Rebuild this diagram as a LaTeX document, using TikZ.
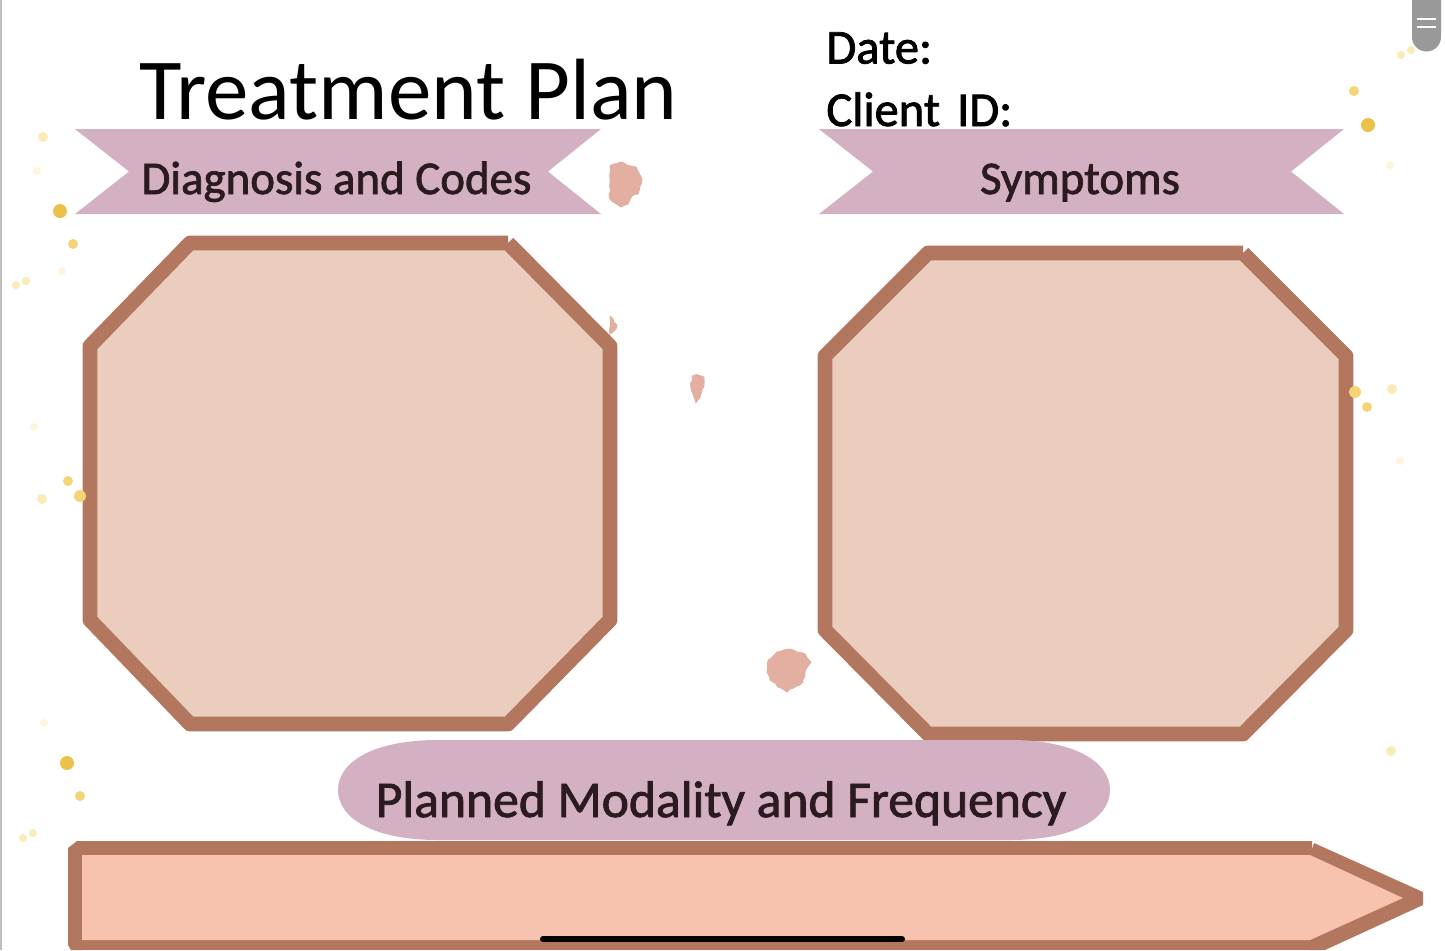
\documentclass[tikz,border=0pt]{standalone}
\usetikzlibrary{decorations.pathmorphing}
\usepackage{fontspec}
\setmainfont{Carlito}
\newfontfamily\medfont[FakeBold=1.6]{Carlito}
\definecolor{bandc}{HTML}{D3B1C2}
\definecolor{edgec}{HTML}{B2775E}
\definecolor{fillc}{HTML}{EACDBD}
\definecolor{arrowc}{HTML}{F7C3AE}
\definecolor{blotc}{HTML}{E2AFA0}
\definecolor{inkc}{HTML}{2B1A20}
\definecolor{gold}{HTML}{EBC14A}
\definecolor{goldb}{HTML}{F4D477}
\definecolor{goldc}{HTML}{FBEBB4}
\definecolor{goldd}{HTML}{FEF6DC}
\tikzset{
  band/.style={fill=bandc,draw=none},
  frame/.style={draw=edgec,line width=7.4pt,line join=round},
  heading/.style={anchor=base,text=inkc,inner sep=0pt,font=\medfont\fontsize{23.45pt}{26pt}\selectfont},
  label/.style={anchor=base west,text=black,inner sep=0pt,font=\medfont\fontsize{24.3pt}{28pt}\selectfont},
  blot/.style={fill=blotc,draw=blotc,line width=0.4pt,line join=round,decorate,decoration={random steps,segment length=2pt,amplitude=0.5pt}}
}
\newcommand{\dotsat}[3]{\foreach \a/\b in {#3} {\fill[#1] (\a,\b) circle[radius=#2];}}
\begin{document}
\begin{tikzpicture}[x=0.5pt,y=-0.5pt]
\useasboundingbox (0,0) rectangle (1445,950);
\fill[white] (0,0) rectangle (1445,950);
\fill[black!25] (0,0) rectangle (1.5,950);
% specks
\dotsat{gold}{7}{60/211,1368/125,67/763}
\dotsat{goldb}{5}{73/244,1354/91,68/481,80/796,1367/407}
\dotsat{goldc}{5}{43/137,42/499,1392/389,1391/751}
\dotsat{goldc}{4}{26/281,16/285,1401/55,1411/50,33/833,23/838}
\dotsat{goldd}{4}{37/171,62/271,1390/165,34/427,44/723,1400/461}
% blots
\path[blot] (610,166) -- (613,164) -- (620,162) -- (627,165) -- (636,167) -- (640,175) -- (642,179) -- (640,186) -- (638,194) -- (632,196) -- (628,204) -- (621,207) -- (615,203) -- (610,199) -- cycle;
\path[blot] (610,316) -- (613,319) -- (617,325) -- (614,331) -- (610,334) -- cycle;
\path[blot] (692,376) -- (698,375) -- (704,377) -- (704,386) -- (701,394) -- (696,403) -- (693,394) -- (691,388) -- cycle;
\path[blot] (768,660) -- (777,652) -- (790,649) -- (797,652) -- (805,654) -- (811,662) -- (805,672) -- (803,682) -- (794,688) -- (787,692) -- (778,687) -- (770,680) -- (767,672) -- cycle;
% header text
\node[anchor=base west,inner sep=0pt,font=\fontsize{43.5pt}{50pt}\selectfont] (title) at (139,119) {Treatment Plan};
\node[label] (date) at (826,63.5) {Date:};
\node[label] (client) at (826,126) {Client\hspace{3pt} ID:};
% ribbons
\path[band] (75,129) -- (601,129) -- (548,171.5) -- (601,214) -- (75,214) -- (129,171.5) -- cycle;
\path[band] (819,129) -- (1344,129) -- (1291,171.5) -- (1344,214) -- (819,214) -- (873,171.5) -- cycle;
\node[heading] (diag) at (336.5,194) {Diagnosis and Codes};
\node[heading] (symp) at (1080,194) {Symptoms};
% octagons
\fill[fillc] (190,243) -- (508,243) -- (610,346) -- (610,620) -- (508,724) -- (190,724) -- (90,620) -- (90,346) -- cycle;
\draw[frame] (508,243) -- (610,346) -- (610,620) -- (508,724) -- (190,724) -- (90,620) -- (90,346) -- (190,243) -- (508,243);
\fill[fillc] (928,253) -- (1243,253) -- (1346,356) -- (1346,630) -- (1243,734) -- (928,734) -- (825,630) -- (825,356) -- cycle;
\draw[frame] (1243,253) -- (1346,356) -- (1346,630) -- (1243,734) -- (928,734) -- (825,630) -- (825,356) -- (928,253) -- (1243,253);
% specks lying over the frames
\dotsat{goldb}{6}{80/496,1355/392}
% pill
\path[band] (438,740) -- (1010,740) .. controls (1075,740) and (1110,762) .. (1110,790) .. controls (1110,818) and (1075,840) .. (1010,840) -- (438,840) .. controls (373,840) and (338,818) .. (338,790) .. controls (338,762) and (373,740) .. (438,740) -- cycle;
\node[heading,font=\medfont\fontsize{25.8pt}{30pt}\selectfont] (plan) at (721,817) {Planned Modality and Frequency};
% arrow
\fill[edgec] (77,841) -- (1312,841) -- (1312,855) -- (1310,855) -- (1403,898) -- (1310,940) -- (82,940) -- (82,855) -- (68,855) -- (68,848) -- cycle;
\fill[edgec] (1314,843) -- (1423,892) -- (1423,905) -- (1325,950) -- (1310,950) -- (1310,855) -- cycle;
\fill[edgec] (68,850) -- (82,850) -- (82,950) -- (71,950) -- (68,945) -- cycle;
\fill[edgec] (71,940) rectangle (1326,950);
\fill[arrowc] (82,855) -- (1310,855) -- (1403,898) -- (1310,940) -- (82,940) -- cycle;
% home bar and handle
\draw[black,line width=3pt,line cap=round] (543,939) -- (902,939);
\fill[black!40] (1412,0) -- (1441,0) -- (1441,37) arc[start angle=0,end angle=180,radius=14.5] -- cycle;
\draw[white,line width=1pt] (1417,19) -- (1436,19) (1417,27) -- (1436,27);
\end{tikzpicture}
\end{document}
